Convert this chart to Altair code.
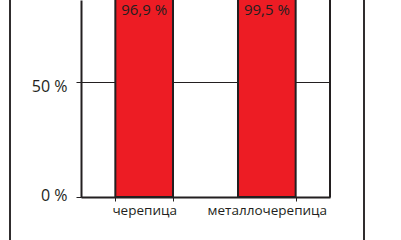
import altair as alt
import pandas as pd

categories = ["черепица", "металлочерепица"]
values = [96.9, 99.5]
labels = ["96,9 %", "99,5 %"]

df = pd.DataFrame({"cat": categories, "val": values, "lab": labels})

DARK = "#231f20"
RED = "#ed1c24"
FONT = "Open Sans"

xscale = alt.Scale(domain=categories, paddingInner=0.53, paddingOuter=0.28)
yscale = alt.Scale(domain=[0, 85.65], nice=False, zero=True)

base = alt.Chart(df)

bars = base.mark_bar(clip=True, color=RED, stroke=DARK, strokeWidth=2).encode(
    x=alt.X("cat:N", scale=xscale, sort=categories,
            axis=alt.Axis(title=None, labelAngle=0, labelFont=FONT, labelFontSize=13.5,
                          labelColor=DARK, tickBand="extent", tickSize=4, tickColor=DARK,
                          tickWidth=1, domainColor=DARK, domainWidth=2, labelPadding=2,
                          grid=False)),
    y=alt.Y("val:Q", scale=yscale,
            axis=alt.Axis(title=None, values=[0, 50], labelExpr="datum.value + ' %'",
                          labelFont=FONT, labelFontSize=16, labelColor=DARK,
                          tickSize=5, tickColor=DARK, tickWidth=1,
                          domainColor=DARK, domainWidth=2, labelPadding=9,
                          grid=True, gridColor=DARK, gridWidth=1,
                          labelOffset={"condition": {"test": "datum.value == 50", "value": 5}, "value": -2})),
)

text = base.mark_text(font=FONT, fontSize=15, color=DARK, baseline="middle", align="center").encode(
    x=alt.X("cat:N", scale=xscale, sort=categories),
    text="lab:N",
    y=alt.value(10),
)

right_border = base.mark_rule(color=DARK, strokeWidth=2).encode(
    x=alt.value(249), y=alt.value(0), y2=alt.value(197)
)
outer_left = base.mark_rule(color=DARK, strokeWidth=1.5).encode(
    x=alt.value(-71), y=alt.value(0), y2=alt.value(245)
)
outer_right = base.mark_rule(color=DARK, strokeWidth=1.5).encode(
    x=alt.value(283), y=alt.value(0), y2=alt.value(245)
)

chart = alt.layer(bars, text, right_border, outer_left, outer_right).properties(
    width=249, height=197,
    autosize=alt.AutoSizeParams(type="none"),
    padding={"left": 81, "top": 0, "right": 71, "bottom": 43},
    background="white",
).configure_view(strokeWidth=0)

chart.save("out.html", embed_options={"renderer": "svg", "actions": False})
